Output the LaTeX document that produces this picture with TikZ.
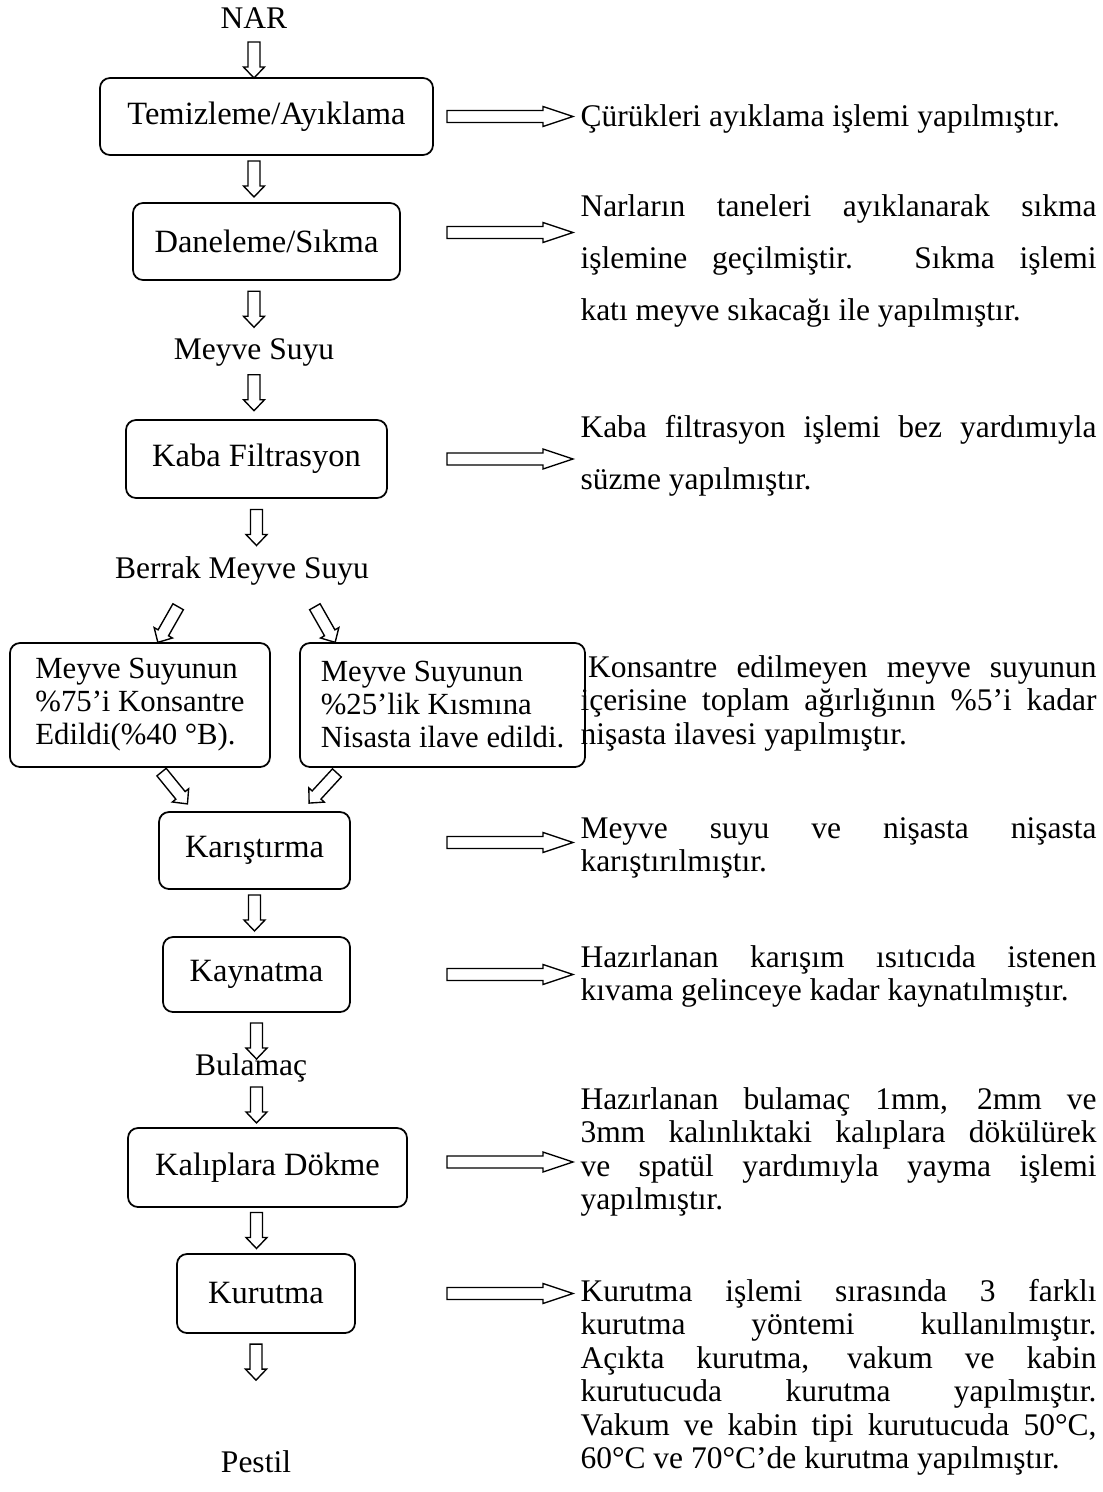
\documentclass[tikz,border=0pt]{standalone}
\usepackage{fontspec}
\setmainfont{Liberation Serif}
\usetikzlibrary{calc}
\setlength{\parindent}{0pt}
\hbadness=10000
\newcommand\mainsize{\fontsize{12.6pt}{13.4pt}\selectfont}
\newcommand\boxsize{\fontsize{13pt}{14pt}\selectfont}
\newcommand\widesize{\fontsize{12.6pt}{20.8pt}\selectfont}
\newcommand\smallsize{\fontsize{12.3pt}{13.2pt}\selectfont}
\newcommand\halflen{7.2pt}
\newcommand\shaft{2.4pt}
\newcommand\barb{4.2pt}
\newcommand\tiplen{4.4pt}

\begin{document}
\begin{tikzpicture}[
    x=0.4pt, y=-0.4pt,
    box/.style={draw, line width=0.7pt, rounded corners=4pt, minimum height=30.8pt, inner sep=2pt, font=\boxsize},
    part/.style={box, align=left, minimum height=49.6pt, font=\smallsize},
    lbl/.style={inner sep=0pt, font=\mainsize},
    desc/.style={anchor=base west, inner sep=0pt, text width=206.4pt, align=justify, font=\mainsize},
    longhead/.code={\def\halflen{25.2pt}\def\barb{4pt}\def\tiplen{12pt}},
    slant/.code={\def\halflen{8.2pt}},
    hollow/.style={draw, line width=0.55pt, to path={
      ($(\tikztostart)!.5!(\tikztotarget)!\halflen!(\tikztostart)!\shaft!90:(\tikztotarget)$)
      -- ($(\tikztostart)!.5!(\tikztotarget)!\halflen!(\tikztotarget)!\tiplen!(\tikztostart)!\shaft!-90:(\tikztostart)$)
      -- ($(\tikztostart)!.5!(\tikztotarget)!\halflen!(\tikztotarget)!\tiplen!(\tikztostart)!\barb!-90:(\tikztostart)$)
      -- ($(\tikztostart)!.5!(\tikztotarget)!\halflen!(\tikztotarget)$)
      -- ($(\tikztostart)!.5!(\tikztotarget)!\halflen!(\tikztotarget)!\tiplen!(\tikztostart)!\barb!90:(\tikztostart)$)
      -- ($(\tikztostart)!.5!(\tikztotarget)!\halflen!(\tikztotarget)!\tiplen!(\tikztostart)!\shaft!90:(\tikztostart)$)
      -- ($(\tikztostart)!.5!(\tikztotarget)!\halflen!(\tikztostart)!\shaft!-90:(\tikztotarget)$)
      -- cycle}}
]
\useasboundingbox (0,0) rectangle (1102,1492);

% process chain
\node[lbl] (nar) at (254,18) {NAR};
\node[box, minimum width=133.2pt] (tem) at (266.5,116.5) {Temizleme/Ayıklama};
\node[box, minimum width=106.8pt] (dan) at (266.5,241.5) {Daneleme/Sıkma};
\node[lbl] (ms) at (254,352) {Meyve Suyu};
\node[box, minimum width=104.4pt, minimum height=31.2pt] (kaba) at (256.5,459) {Kaba Filtrasyon};
\node[lbl] (bms) at (242,571) {Berrak Meyve Suyu};
\node[part, minimum width=104pt] (kon) at (140,705) {Meyve Suyunun\\\%75’i Konsantre\\Edildi(\%40 °B).};
\node[part, minimum width=114pt] (nis) at (442.5,705) {Meyve Suyunun\\\%25’lik Kısmına\\Nisasta ilave edildi.};
\node[box, minimum width=76.4pt] (kar) at (254.5,850.5) {Karıştırma};
\node[box, minimum width=74.8pt, minimum height=30pt] (kay) at (256.5,974.5) {Kaynatma};
\node[lbl] (bul) at (251,1068) {Bulamaç};
\node[box, minimum width=111.6pt, minimum height=31.6pt] (kal) at (267.5,1167.5) {Kalıplara Dökme};
\node[box, minimum width=71.2pt, minimum height=31.6pt] (kur) at (266,1293.5) {Kurutma};
\node[lbl] (pes) at (256,1462) {Pestil};

\draw[hollow] ([yshift=-5.6pt]nar.south) to (nar.south |- tem.north);
\draw[hollow] (tem.south -| nar) to (dan.north -| nar);
\draw[hollow] (dan.south -| ms) to (ms.north);
\draw[hollow] (ms.south) to (ms.south |- kaba.north);
\draw[hollow] (kaba.south) to (kaba.south |- bms.north);
\draw[hollow, slant] ([shift={(-64,36)}]bms.center) to ([xshift=7.2pt]kon.north);
\draw[hollow, slant] ([shift={(73,36)}]bms.center) to ([xshift=-43pt]kon.north -| nis.north);
\draw[hollow, slant] ([shift={(23,6)}]kon.south) to ([shift={(-68.5,-9)}]kar.north);
\draw[hollow, slant] ([shift={(-106.5,6)}]nis.south) to ([shift={(55.5,-9)}]kar.north);
\draw[hollow] (kar.south) to (kar.south |- kay.north);
\draw[hollow] (kay.south) to ([yshift=-6.4pt]kay.south |- bul.north);
\draw[hollow] (bul.south -| kay) to (kal.north -| kay);
\draw[hollow] (kal.south -| kay) to (kur.north -| kay);
\draw[hollow] (kur.south -| pes) to ([yshift=24pt]pes.north);

% notes on the right
\coordinate (ha) at (446,0);
\coordinate (hb) at (574,0);
\node[desc] (d1) at (580,126) {Çürükleri ayıklama işlemi yapılmıştır.};
\node[desc, font=\widesize] (d2) at (580,216) {Narların taneleri ayıklanarak sıkma\linebreak işlemine geçilmiştir. Sıkma işlemi\linebreak katı meyve sıkacağı ile yapılmıştır.};
\node[desc, font=\widesize] (d3) at (580,437) {Kaba filtrasyon işlemi bez yardımıyla\linebreak süzme yapılmıştır.};
\node[desc] (d4) at (580,677) {\hspace*{3pt}Konsantre edilmeyen meyve suyunun\linebreak içerisine toplam ağırlığının \%5’i kadar\linebreak nişasta ilavesi yapılmıştır.};
\node[desc] (d5) at (580,838) {Meyve suyu ve nişasta nişasta\linebreak karıştırılmıştır.};
\node[desc] (d6) at (580,967) {Hazırlanan karışım ısıtıcıda istenen\linebreak kıvama gelinceye kadar kaynatılmıştır.};
\node[desc] (d7) at (580,1109) {Hazırlanan bulamaç 1mm, 2mm ve\linebreak 3mm kalınlıktaki kalıplara dökülürek\linebreak ve spatül yardımıyla yayma işlemi\linebreak yapılmıştır.};
\node[desc] (d8) at (580,1301) {Kurutma işlemi sırasında 3 farklı\linebreak kurutma yöntemi kullanılmıştır.\linebreak Açıkta kurutma, vakum ve kabin\linebreak kurutucuda kurutma yapılmıştır.\linebreak Vakum ve kabin tipi kurutucuda 50°C,\linebreak 60°C ve 70°C’de kurutma yapılmıştır.};

\draw[hollow, longhead] (tem -| ha) to (tem -| hb);
\draw[hollow, longhead] ([yshift=3.6pt]dan -| ha) to ([yshift=3.6pt]dan -| hb);
\draw[hollow, longhead] (kaba -| ha) to (kaba -| hb);
\draw[hollow, longhead] ([yshift=3.2pt]kar -| ha) to ([yshift=3.2pt]kar -| hb);
\draw[hollow, longhead] (kay -| ha) to (kay -| hb);
\draw[hollow, longhead] ([yshift=2.2pt]kal -| ha) to ([yshift=2.2pt]kal -| hb);
\draw[hollow, longhead] (kur -| ha) to (kur -| hb);
\end{tikzpicture}
\end{document}
